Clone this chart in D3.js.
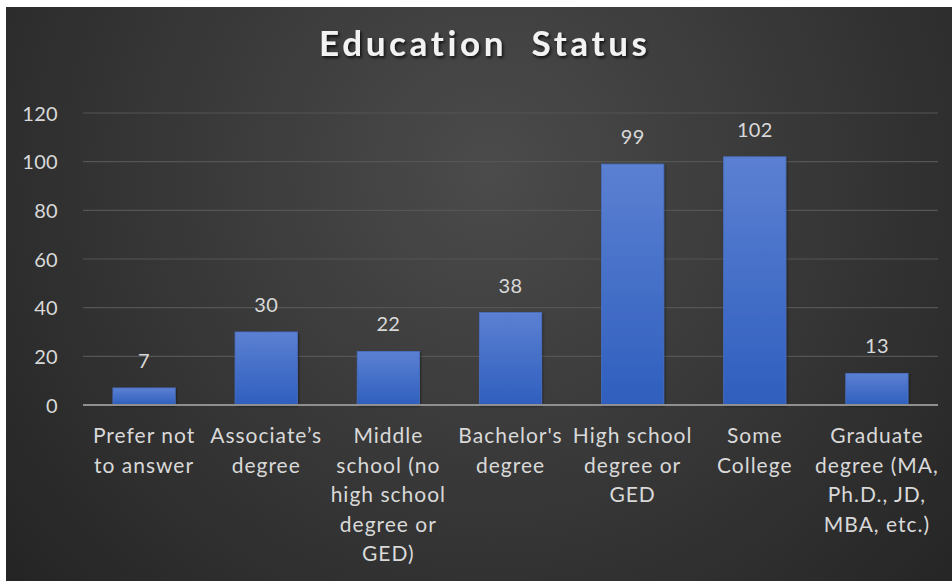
<!DOCTYPE html>
<html>
<head>
<meta charset="utf-8">
<script src="https://cdn.jsdelivr.net/npm/d3@7/dist/d3.min.js"></script>
<style>
  html, body { margin: 0; padding: 0; background: #ffffff; }
  svg { display: block; }
  text { font-family: Lato, "Open Sans", "Noto Sans", sans-serif; font-variant-ligatures: none; }
</style>
</head>
<body>
<svg id="chart" width="952" height="581"></svg>
<script>
// Survey respondents by highest education level
const categories = [
  "Prefer not to answer",
  "Associate’s degree",
  "Middle school (no high school degree or GED)",
  "Bachelor's degree",
  "High school degree or GED",
  "Some College",
  "Graduate degree (MA, Ph.D., JD, MBA, etc.)"
];
const categoryLines = [
  ["Prefer not", "to answer"],
  ["Associate’s", "degree"],
  ["Middle", "school (no", "high school", "degree or", "GED)"],
  ["Bachelor's", "degree"],
  ["High school", "degree or", "GED"],
  ["Some", "College"],
  ["Graduate", "degree (MA,", "Ph.D., JD,", "MBA, etc.)"]
];
const counts = [7, 30, 22, 38, 99, 102, 13];
const yTicks = [0, 20, 40, 60, 80, 100, 120];
const chartTitle = "Education  Status";

const W = 952, H = 581;
const panel = { x: 6, y: 7, w: W - 6, h: H - 7 };
const plot = { left: 83, right: 938, top: 113, bottom: 405 };

const svg = d3.select("#chart");
const defs = svg.append("defs");

// Dark radial backdrop
const bg = defs.append("radialGradient").attr("id", "bgGrad")
  .attr("gradientUnits", "userSpaceOnUse")
  .attr("cx", 490).attr("cy", 170).attr("r", 620);
bg.append("stop").attr("offset", "0%").attr("stop-color", "#4b4b4b");
bg.append("stop").attr("offset", "100%").attr("stop-color", "#252525");

// Bar fill
const barGrad = defs.append("linearGradient").attr("id", "barGrad")
  .attr("x1", 0).attr("y1", 0).attr("x2", 0).attr("y2", 1);
barGrad.append("stop").attr("offset", "0%").attr("stop-color", "#5b80d2");
barGrad.append("stop").attr("offset", "100%").attr("stop-color", "#2f5fbe");

// Title shadow
const shadow = defs.append("filter").attr("id", "titleShadow")
  .attr("x", "-10%").attr("y", "-30%").attr("width", "120%").attr("height", "160%");
shadow.append("feDropShadow").attr("dx", 1.5).attr("dy", 2)
  .attr("stdDeviation", 1.5).attr("flood-color", "#000").attr("flood-opacity", 0.75);

const barShadow = defs.append("filter").attr("id", "barShadow")
  .attr("x", "-20%").attr("y", "-20%").attr("width", "140%").attr("height", "140%");
barShadow.append("feDropShadow").attr("dx", 1).attr("dy", 1)
  .attr("stdDeviation", 1.2).attr("flood-color", "#000").attr("flood-opacity", 0.45);

svg.append("rect")
  .attr("x", panel.x).attr("y", panel.y)
  .attr("width", panel.w).attr("height", panel.h)
  .attr("fill", "url(#bgGrad)");

const x = d3.scaleBand()
  .domain(categories)
  .range([plot.left, plot.right])
  .paddingInner(0.49)
  .paddingOuter(0.245);

const y = d3.scaleLinear()
  .domain([0, 120])
  .range([plot.bottom, plot.top]);

// Horizontal gridlines
svg.append("g")
  .selectAll("line")
  .data(yTicks.filter(d => d > 0))
  .join("line")
  .attr("x1", plot.left).attr("x2", plot.right)
  .attr("y1", d => y(d)).attr("y2", d => y(d))
  .attr("stroke", "#555555").attr("stroke-width", 1.2);

// Y axis labels
const yAxis = svg.append("g")
  .attr("transform", `translate(${plot.left},0)`)
  .call(d3.axisLeft(y).tickValues(yTicks).tickSize(0).tickPadding(25));
yAxis.select(".domain").remove();
yAxis.selectAll("text")
  .attr("fill", "#d9d9d9")
  .style("font-size", "20px")
  .style("letter-spacing", "0.3px")
  .attr("dy", "0.35em");

// Bars
svg.append("g")
  .selectAll("rect")
  .data(categories)
  .join("rect")
  .attr("x", d => x(d))
  .attr("y", (d, i) => y(counts[i]))
  .attr("width", x.bandwidth())
  .attr("height", (d, i) => y(0) - y(counts[i]))
  .attr("fill", "url(#barGrad)")
  .attr("stroke", "#4a70c4")
  .attr("stroke-width", 0.8)
  .attr("filter", "url(#barShadow)");

// Baseline
svg.append("line")
  .attr("x1", plot.left).attr("x2", plot.right)
  .attr("y1", y(0)).attr("y2", y(0))
  .attr("stroke", "#8f8f8f").attr("stroke-width", 2);

// Value labels
svg.append("g")
  .selectAll("text")
  .data(categories)
  .join("text")
  .attr("x", d => x(d) + x.bandwidth() / 2)
  .attr("y", (d, i) => y(counts[i]) - 20)
  .attr("text-anchor", "middle")
  .attr("fill", "#d9d9d9")
  .style("font-size", "20px")
  .style("letter-spacing", "0.3px")
  .text((d, i) => counts[i]);

// Category labels (wrapped)
const xAxis = svg.append("g")
  .attr("transform", `translate(0,${plot.bottom})`)
  .call(d3.axisBottom(x).tickSize(0).tickFormat(""));
xAxis.select(".domain").remove();

svg.append("g")
  .selectAll("text")
  .data(categories)
  .join("text")
  .attr("x", d => x(d) + x.bandwidth() / 2)
  .attr("y", 443)
  .attr("text-anchor", "middle")
  .attr("fill", "#d9d9d9")
  .style("font-size", "21px")
  .style("letter-spacing", "1px")
  .each(function (d, i) {
    d3.select(this).selectAll("tspan")
      .data(categoryLines[i])
      .join("tspan")
      .attr("x", x(d) + x.bandwidth() / 2)
      .attr("dy", (t, j) => j === 0 ? 0 : 29.5)
      .text(t => t);
  });

// Title
svg.append("text")
  .attr("x", 483)
  .attr("y", 56)
  .attr("text-anchor", "middle")
  .attr("fill", "#f2f2f2")
  .style("font-size", "35px")
  .style("font-weight", "700")
  .style("white-space", "pre")
  .attr("textLength", 328)
  .attr("lengthAdjust", "spacing")
  .attr("filter", "url(#titleShadow)")
  .text(chartTitle);
</script>
</body>
</html>
